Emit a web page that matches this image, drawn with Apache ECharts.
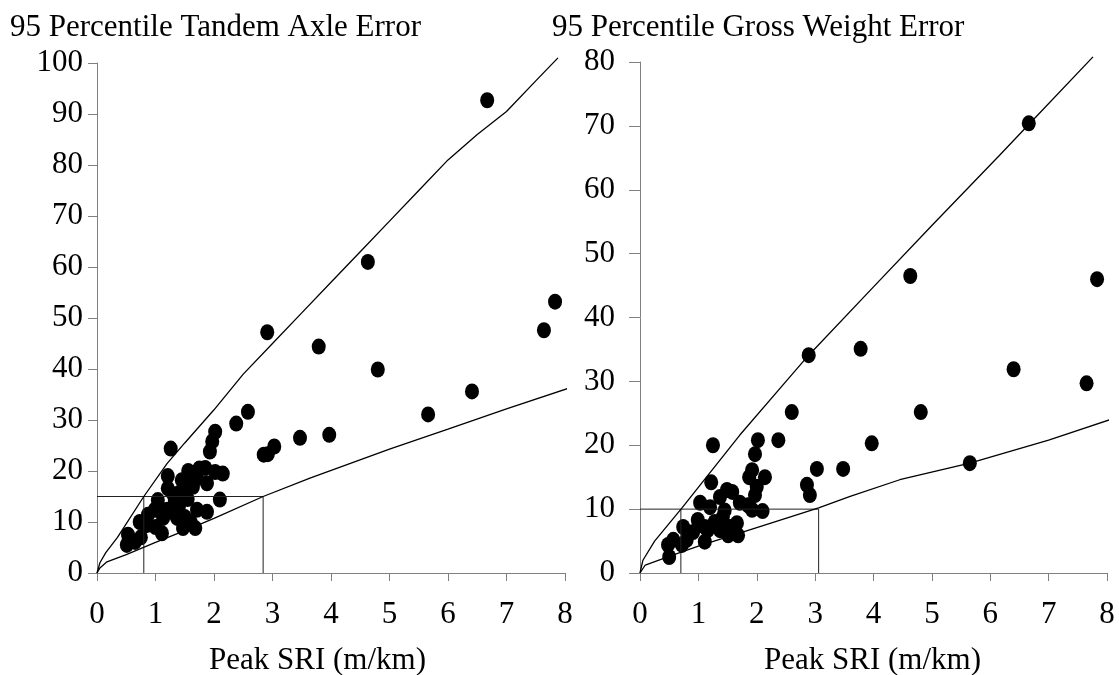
<!DOCTYPE html>
<html>
<head>
<meta charset="utf-8">
<script src="https://cdn.jsdelivr.net/npm/echarts@6/dist/echarts.min.js"></script>
<style>
html,body{margin:0;padding:0;background:#fff;}
#chart{width:1119px;height:675px;}
</style>
</head>
<body>
<div id="chart"></div>
<script>
// ---------- Data ----------
const xTicks = [0, 8, 1];
const tandemYRange = [0, 100, 10];
const grossYRange = [0, 80, 10];

const tandemPoints = [
  [6.67,92.7],[4.63,61.0],[2.91,47.2],[3.79,44.4],[4.80,39.9],[7.83,53.2],[7.64,47.6],
  [6.41,35.6],[5.66,31.1],[3.47,26.5],[3.97,27.1],[3.03,24.8],[2.85,23.2],[2.92,23.3],
  [2.58,31.6],[2.38,29.3],[2.02,27.7],[1.97,25.8],[1.93,23.8],[1.26,24.4],
  [1.21,19.0],[1.21,16.6],[1.56,20.0],[1.85,20.6],[2.02,19.8],[2.15,19.5],[1.45,18.2],
  [1.71,18.6],[1.88,17.6],[1.64,16.9],[1.52,17.5],[1.75,20.5],[2.10,14.4],[1.04,14.3],
  [1.33,14.3],[1.20,12.4],[0.99,12.4],[0.87,11.4],[0.73,10.0],[0.85,9.4],[0.53,7.5],
  [0.51,5.5],[0.65,6.1],[0.75,7.0],[1.13,10.8],[1.11,7.8],[1.37,10.8],[1.47,8.8],
  [1.71,12.4],[1.88,12.0],[1.68,8.8],[1.50,11.0],[1.40,13.0],[1.55,14.5],[1.30,15.5],
  [1.00,9.0],[1.25,12.0],[1.60,10.0],[1.42,15.8]
];
const tandemUpper = [
  [0,0],[0.05,2],[0.15,4],[0.35,7],[0.8,15],[1.2,21.5],[1.5,25.5],[2.0,32],[2.5,39],
  [3.0,45],[3.5,51],[4.0,57],[4.5,63],[5.0,69],[5.5,75],[6.0,81],[6.5,86],[7.0,90.5],
  [7.5,96.5],[7.88,101]
];
const tandemLower = [
  [0,0],[0.05,1],[0.17,2.2],[0.5,3.6],[1,6.0],[1.5,8.3],[2,10.7],[2.84,15],[3.64,18.6],
  [5.0,24.3],[6,28.2],[7,32.2],[8.08,36.3]
];
const tandemRefA = [[0,15],[2.84,15],[2.84,0]];
const tandemRefB = [[0.8,0],[0.8,15]];

const grossPoints = [
  [6.66,70.4],[4.63,46.5],[7.83,46.0],[2.89,34.1],[3.78,35.1],[6.40,31.9],[7.65,29.7],
  [2.60,25.2],[4.81,25.2],[2.02,20.8],[2.37,20.8],[3.97,20.3],[1.25,20.0],[1.97,18.6],
  [3.03,16.3],[3.48,16.3],[5.65,17.2],[1.92,16.1],[2.14,15.0],[1.87,15.0],[2.86,13.8],
  [2.91,12.2],
  [1.22,14.2],[2.00,13.5],[1.97,12.2],[2.10,9.7],[1.92,9.9],[1.49,13.0],[1.58,12.7],
  [1.37,11.9],[1.03,11.0],[1.71,11.0],[1.85,10.6],[1.20,10.3],[1.42,8.8],[1.54,7.2],
  [1.68,5.9],[1.51,5.9],[1.11,7.2],[1.11,4.9],[0.74,7.2],[0.91,6.4],[0.80,5.2],
  [0.57,5.2],[0.48,4.4],[0.50,2.5],[1.66,7.8],[1.28,8.0],[1.37,6.7],[0.99,8.3],
  [1.16,6.7],[0.72,4.4],[1.45,9.8]
];
const grossUpper = [
  [0,0],[0.05,2],[0.25,5],[0.72,10.2],[1.71,21.6],[2.52,30.2],[2.89,34.1],[4,44.8],
  [5,54.4],[6.16,65.4],[6.68,70.4],[7.76,80.8]
];
const grossLower = [
  [0,0],[0.09,1.25],[0.5,2.6],[1,4.2],[2,7.1],[3.06,10.2],[3.6,12.0],[4.45,14.6],
  [5.65,17.2],[7,20.8],[8.08,24.1]
];
const grossRefA = [[0,10],[3.06,10],[3.06,0]];
const grossRefB = [[0.70,0],[0.70,10]];

const titles = ['95 Percentile Tandem Axle Error', '95 Percentile Gross Weight Error'];
const xName = 'Peak SRI (m/km)';

// ---------- Chart ----------
const FONT = 'Liberation Serif';
const AX = '#808080';
const chart = echarts.init(document.getElementById('chart'), null, {renderer: 'canvas'});

function xAxisCfg(gi) {
  return {
    type: 'value', gridIndex: gi, min: xTicks[0], max: xTicks[1], interval: xTicks[2],
    axisLine: {show: true, onZero: false, lineStyle: {color: AX, width: 1}},
    axisTick: {show: true, inside: false, length: 8, lineStyle: {color: AX}},
    axisLabel: {color: '#000', fontFamily: FONT, fontSize: 31, margin: 26},
    splitLine: {show: false}
  };
}
function yAxisCfg(gi, r, margin, tick) {
  return {
    type: 'value', gridIndex: gi, min: r[0], max: r[1], interval: r[2],
    axisLine: {show: true, onZero: false, lineStyle: {color: AX, width: 1}},
    axisTick: {show: true, inside: false, length: tick, lineStyle: {color: AX}},
    axisLabel: {color: '#000', fontFamily: FONT, fontSize: 31, margin: margin},
    splitLine: {show: false}
  };
}
function lineS(gi, data, w, c) {
  return {type: 'line', xAxisIndex: gi, yAxisIndex: gi, data: data, showSymbol: false,
    symbol: 'none', clip: false, silent: true, animation: false,
    lineStyle: {color: c || '#000', width: w || 1.3}};
}
function scatterS(gi, data) {
  return {type: 'scatter', xAxisIndex: gi, yAxisIndex: gi, data: data, symbol: 'circle',
    symbolSize: [14, 16], itemStyle: {color: '#000', opacity: 1}, animation: false, clip: false};
}

chart.setOption({
  backgroundColor: '#fff',
  animation: false,
  grid: [
    {left: 97, top: 63, width: 468, height: 510, containLabel: false},
    {left: 640, top: 62, width: 467, height: 511, containLabel: false}
  ],
  xAxis: [xAxisCfg(0), xAxisCfg(1)],
  yAxis: [yAxisCfg(0, tandemYRange, 14, 9), yAxisCfg(1, grossYRange, 25, 11)],
  graphic: [
    {type: 'text', left: 10, top: 12, style: {text: titles[0], font: '31px "' + FONT + '"', fill: '#000'}},
    {type: 'text', left: 552, top: 12, style: {text: titles[1], font: '31px "' + FONT + '"', fill: '#000'}},
    {type: 'text', left: 209, top: 645, style: {text: xName, font: '31px "' + FONT + '"', fill: '#000'}},
    {type: 'text', left: 764, top: 645, style: {text: xName, font: '31px "' + FONT + '"', fill: '#000'}}
  ],
  series: [
    lineS(0, tandemRefA, 1, '#222'),
    lineS(0, tandemRefB, 1, '#222'),
    lineS(0, tandemUpper),
    lineS(0, tandemLower),
    scatterS(0, tandemPoints),
    lineS(1, grossRefA, 1, '#222'),
    lineS(1, grossRefB, 1, '#222'),
    lineS(1, grossUpper),
    lineS(1, grossLower),
    scatterS(1, grossPoints)
  ]
});
</script>
</body>
</html>
